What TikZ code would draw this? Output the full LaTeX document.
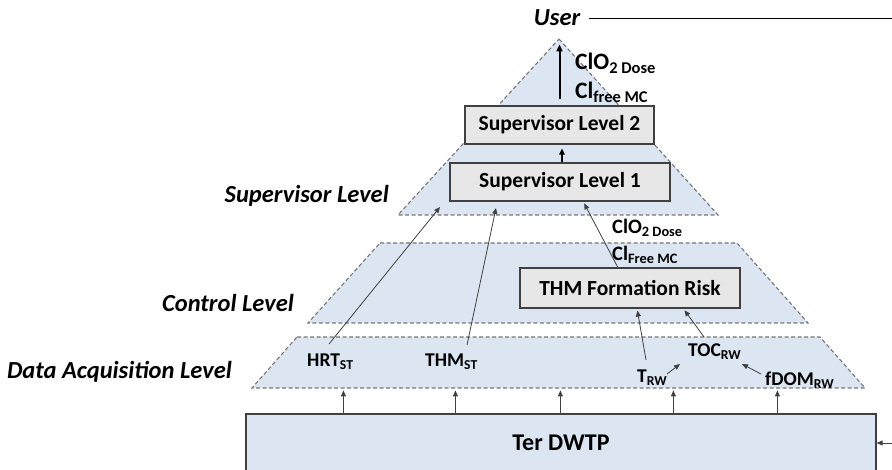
\documentclass[tikz,border=0pt]{standalone}
\usepackage{fontspec}
\setmainfont{Carlito}
\usetikzlibrary{arrows.meta,calc}
\definecolor{lblue}{RGB}{220,230,242}
\definecolor{boxgray}{RGB}{231,231,231}
\definecolor{dashgray}{RGB}{118,118,118}
\definecolor{linegray}{RGB}{64,64,64}
\newcommand\sbs[1]{\textsubscript{#1}}
\begin{document}
\begin{tikzpicture}[x=1pt,y=-1pt,
  levelshape/.style={fill=lblue,draw=dashgray,line width=1.1pt,dash pattern=on 4pt off 2.5pt},
  box/.style={draw=linegray,fill=boxgray,line width=1.2pt,font=\fontsize{21.5}{25}\selectfont\bfseries,inner sep=0pt},
  plantbox/.style={draw=linegray,fill=lblue,line width=1.2pt,font=\fontsize{24}{28}\selectfont\bfseries,inner sep=0pt},
  lvl/.style={font=\fontsize{24.5}{28}\selectfont\bfseries\itshape,inner sep=1pt},
  var/.style={font=\fontsize{19.5}{23}\selectfont\bfseries,inner sep=1pt,anchor=west},
  midvar/.style={font=\fontsize{20.5}{24}\selectfont\bfseries,inner sep=1pt,anchor=west},
  bigvar/.style={font=\fontsize{23.5}{27}\selectfont\bfseries,inner sep=1pt,anchor=west},
  arr/.style={draw=linegray,line width=0.8pt,-{Triangle[length=6pt,width=5pt]}},
  bigarr/.style={draw=black,line width=2pt,-{Triangle[length=7pt,width=6pt]}},
  midarr/.style={draw=black,line width=1.4pt,-{Triangle[length=6pt,width=5.5pt]}}]
\useasboundingbox (0,0) rectangle (892,470);
\clip (0,0) rectangle (892,470);
% level shapes
\path[levelshape] (559,39) -- (718,215) -- (398,215) -- cycle;
\path[levelshape] (380,243) -- (737,243) -- (808,323) -- (308,323) -- cycle;
\path[levelshape] (297,337) -- (820,337) -- (865,388) -- (252,388) -- cycle;
% boxes
\node[box,minimum width=189pt,minimum height=38pt] (sup2) at (559.5,125) {Supervisor Level 2};
\node[box,minimum width=220pt,minimum height=38pt] (sup1) at (560,182) {Supervisor Level 1};
\node[box,minimum width=220pt,minimum height=40pt] (thm) at (630,288) {THM Formation Risk};
\node[plantbox,minimum width=630pt,minimum height=58pt] (dwtp) at (561,443) {Ter DWTP};
% level labels
\node[lvl] (user) at (557,18) {User};
\node[lvl,anchor=east] (lsup) at (390,196) {Supervisor Level};
\node[lvl,anchor=east] (lctl) at (295,303) {Control Level};
\node[lvl,anchor=east] (ldaq) at (233,372) {Data Acquisition Level};
% variables
\node[bigvar] (clotop) at (574,63) {ClO\sbs{2 Dose}};
\node[bigvar] (cltop) at (574,92) {Cl\sbs{free MC}};
\node[midvar] (clomid) at (611,228) {ClO\sbs{2 Dose}};
\node[midvar] (clmid) at (611,255) {Cl\sbs{Free MC}};
\node[var] (hrt) at (306,362) {HRT\sbs{ST}};
\node[var] (thmst) at (424,362) {THM\sbs{ST}};
\node[var] (trw) at (636,378) {T\sbs{RW}};
\node[var] (toc) at (687,352) {TOC\sbs{RW}};
\node[var] (fdom) at (764,380) {fDOM\sbs{RW}};
% free ends
\coordinate (hrtTip) at (440,207);
\coordinate (thmstTip) at (496,208);
\coordinate (userR) at (892,18);
\coordinate (inR) at (892,443);
% connectors
\draw[bigarr,shorten <=6pt] (sup2.north) -- ($(sup2.north)+(0,-61)$);
\draw[midarr] ($(sup1.north)+(2,0)$) -- ($(sup2.south)+(2.5,4)$);
\draw[arr] ($(hrt.west)+(23,-18)$) -- (hrtTip);
\draw[arr] ($(thmst.west)+(43,-17)$) -- (thmstTip);
\draw[arr,shorten >=2pt] ($(thm.north west)!0.445!(thm.north east)$) -- ($(sup1.south west)!0.605!(sup1.south east)$);
\draw[arr,shorten >=2pt] ($(trw.west)+(10,-18)$) -- ($(thm.south west)!0.532!(thm.south east)$);
\draw[arr,shorten >=2pt] ($(toc.west)+(17,-15)$) -- ($(thm.south west)!0.741!(thm.south east)$);
\draw[arr] ($(trw.west)+(31,-4)$) -- ($(toc.west)+(-7,12)$);
\draw[arr] ($(fdom.west)+(-3,-6)$) -- ($(toc.west)+(55,12)$);
\foreach \dx in {98,210,315,428,532}
  \draw[arr] ($(dwtp.north west)+(\dx,0)$) -- ($(dwtp.north west)+(\dx,-23)$);
\draw[arr] (inR) -- (dwtp.east);
\draw[draw=black,line width=0.9pt,shorten <=8pt] (user.east) -- (userR);
\end{tikzpicture}
\end{document}
